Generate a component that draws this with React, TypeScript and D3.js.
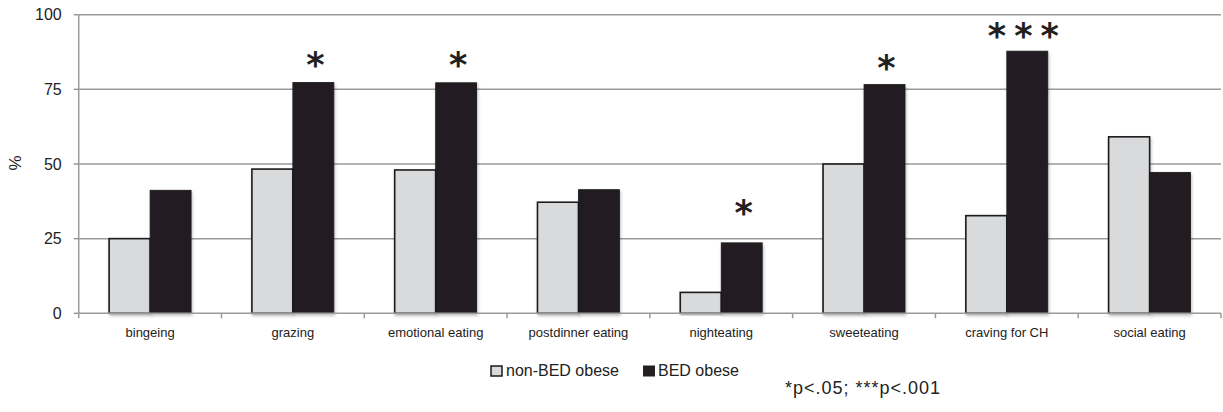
import React from "react";
import * as d3 from "d3";

const categories = [
  "bingeing",
  "grazing",
  "emotional eating",
  "postdinner eating",
  "nighteating",
  "sweeteating",
  "craving for CH",
  "social eating",
];
const nonBedObese = [25, 48.3, 48, 37.2, 7, 50, 32.7, 59.1];
const bedObese = [41.2, 77.3, 77.2, 41.4, 23.6, 76.6, 87.8, 47.2];
const significance = ["", "*", "*", "", "*", "*", "***", ""];
const markLevel = [0, 85.5, 85.5, 0, 36, 84.7, 95.4, 0];
const yTicks = [0, 25, 50, 75, 100];
const seriesNames = ["non-BED obese", "BED obese"];

const W = 1223;
const H = 412;
const margin = { top: 14.7, right: 2, bottom: 98.7, left: 78.7 };
const FONT = "'Liberation Sans', Arial, sans-serif";
const STAR = 35;

export default function App() {
  const innerW = W - margin.left - margin.right;
  const innerH = H - margin.top - margin.bottom;

  const x = d3
    .scaleBand<string>()
    .domain(categories)
    .range([0, innerW])
    .paddingInner(0.426)
    .paddingOuter(0.213);
  const y = d3.scaleLinear().domain([0, 100]).range([innerH, 0]);
  const bw = x.bandwidth() / 2;
  const step = x.step();

  const fills = ["#d9dadc", "#231f20"];
  const series = [nonBedObese, bedObese];

  return (
    <svg
      width={W}
      height={H}
      style={{ position: "absolute", left: 0, top: 0, background: "#fff" }}
    >
      <defs>
        <filter id="shadow" x="-20%" y="-5%" width="140%" height="115%">
          <feDropShadow dx="1" dy="2" stdDeviation="1.5" floodColor="#000" floodOpacity="0.25" />
        </filter>
      </defs>
      <g transform={`translate(${margin.left},${margin.top})`}>
        {/* gridlines */}
        {yTicks.map((t) => (
          <g key={t}>
            {t > 0 && (
              <line x1={0} x2={innerW} y1={y(t)} y2={y(t)} stroke="#9a9a9a" strokeWidth={1.5} />
            )}
            <line x1={-5} x2={0} y1={y(t)} y2={y(t)} stroke="#9a9a9a" strokeWidth={1.5} />
            <text
              x={-17}
              y={y(t)}
              dy="0.35em"
              textAnchor="end"
              fontFamily={FONT}
              fontSize={16}
              fill="#222"
            >
              {t}
            </text>
          </g>
        ))}

        {/* bars */}
        {categories.map((c, i) => (
          <g key={c}>
            {series.map((s, k) => (
              <rect
                key={k}
                x={(x(c) as number) + k * bw}
                y={y(s[i])}
                width={bw}
                height={innerH - y(s[i])}
                fill={fills[k]}
                stroke="#1a1a1a"
                strokeWidth={k === 0 ? 1.6 : 0.8}
                filter="url(#shadow)"
              />
            ))}
          </g>
        ))}

        {/* axes */}
        <line x1={0} x2={0} y1={0} y2={innerH} stroke="#9a9a9a" strokeWidth={1.5} />
        <line x1={0} x2={innerW} y1={innerH} y2={innerH} stroke="#9a9a9a" strokeWidth={1.5} />
        {d3.range(categories.length + 1).map((j) => (
          <line
            key={j}
            x1={j * step}
            x2={j * step}
            y1={innerH}
            y2={innerH + 5}
            stroke="#9a9a9a"
            strokeWidth={1.5}
          />
        ))}
        {categories.map((c) => (
          <text
            key={c}
            x={(x(c) as number) + x.bandwidth() / 2}
            y={innerH + 24}
            textAnchor="middle"
            fontFamily={FONT}
            fontSize={13}
            fill="#222"
          >
            {c}
          </text>
        ))}

        {/* significance marks */}
        {categories.map((c, i) =>
          significance[i] ? (
            <text
              key={c}
              x={(x(c) as number) + bw * 1.5 + (significance[i].length > 1 ? 0 : 2)}
              y={y(markLevel[i]) + 0.55 * STAR}
              textAnchor="middle"
              fontFamily="'DejaVu Sans', sans-serif"
              fontWeight="bold"
              fontSize={STAR}
              letterSpacing={significance[i].length > 1 ? 8 : 0}
              fill="#231f20"
            >
              {significance[i]}
            </text>
          ) : null
        )}
      </g>

      {/* y label */}
      <text
        transform="translate(21,163) rotate(-90)"
        textAnchor="middle"
        fontFamily={FONT}
        fontSize={17}
        fill="#222"
      >
        %
      </text>

      {/* legend */}
      <g fontFamily={FONT} fontSize={16} fill="#222">
        <rect x={491} y={366} width={11} height={10} fill={fills[0]} stroke="#1a1a1a" strokeWidth={1.5} />
        <text x={506} y={376}>{seriesNames[0]}</text>
        <rect x={643} y={365.5} width={12} height={11} fill={fills[1]} />
        <text x={658} y={376}>{seriesNames[1]}</text>
        <text x={785} y={394} fontSize={18} letterSpacing={1}>
          *p&lt;.05; ***p&lt;.001
        </text>
      </g>
    </svg>
  );
}
